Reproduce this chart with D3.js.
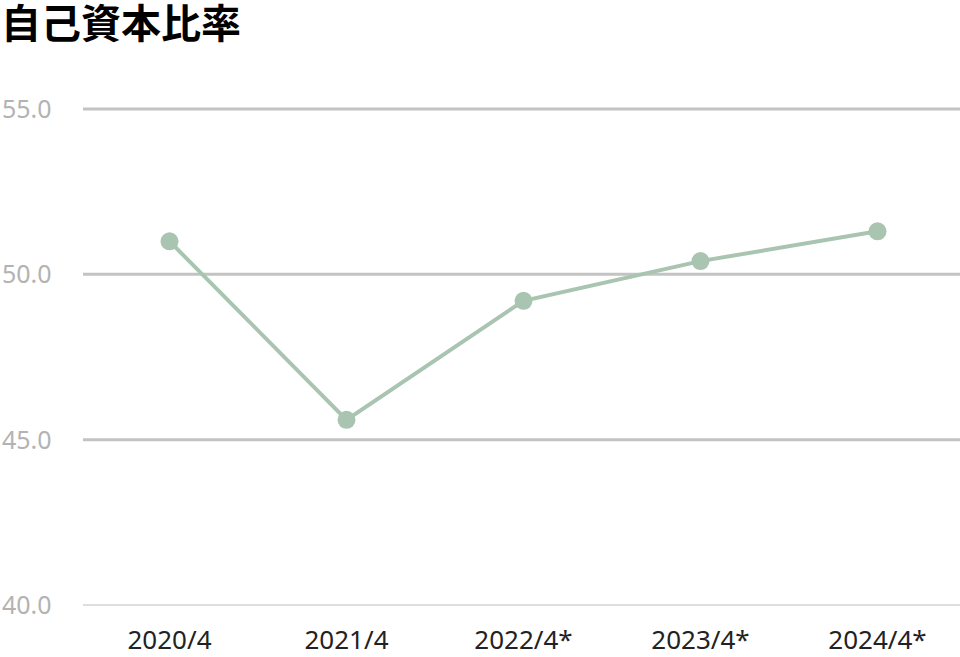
<!DOCTYPE html>
<html><head><meta charset="utf-8">
<script src="https://cdn.jsdelivr.net/npm/d3@7"></script>
<style>
html,body{margin:0;padding:0;background:#fff;}
svg{display:block;}
</style></head>
<body>
<svg id="chart" width="960" height="657"></svg>
<script>
const title = "自己資本比率";
const categories = ["2020/4", "2021/4", "2022/4*", "2023/4*", "2024/4*"];
const values = [51.0, 45.6, 49.2, 50.4, 51.3];
const yTicks = [40, 45, 50, 55];

const svg = d3.select("#chart");
const W = 960, H = 657;
const font = "'Noto Sans', 'Noto Sans CJK JP', sans-serif";

const x = d3.scaleBand().domain(categories).range([81, 966]);
const y = d3.scaleLinear().domain([40, 55]).range([605, 109]);

svg.append("text")
  .attr("x", 1).attr("y", 38)
  .attr("font-family", "'Noto Sans CJK JP', sans-serif")
  .attr("font-size", 40).attr("font-weight", "bold")
  .attr("fill", "#000")
  .text(title);

const grid = svg.append("g");
grid.selectAll("line").data(yTicks).join("line")
  .attr("x1", 83).attr("x2", W)
  .attr("y1", d => y(d)).attr("y2", d => y(d))
  .attr("stroke", d => d === 40 ? "#dedede" : "#c3c3c3")
  .attr("stroke-width", d => d === 40 ? 2 : 3);

grid.selectAll("text").data(yTicks).join("text")
  .attr("x", 2).attr("y", d => y(d))
  .attr("dy", "0.36em")
  .attr("font-family", font).attr("font-size", 25)
  .attr("fill", "#b3b3b3")
  .text(d => d3.format(".1f")(d));

svg.append("g").selectAll("text").data(categories).join("text")
  .attr("x", d => x(d) + x.bandwidth() / 2)
  .attr("y", 649)
  .attr("text-anchor", "middle")
  .attr("font-family", font).attr("font-size", 26)
  .attr("fill", "#222")
  .text(d => d);

const data = categories.map((c, i) => ({c, v: values[i]}));
const line = d3.line().x(d => x(d.c) + x.bandwidth() / 2).y(d => y(d.v));
svg.append("path").datum(data)
  .attr("d", line)
  .attr("fill", "none")
  .attr("stroke", "#a9c5b1")
  .attr("stroke-width", 4);

svg.append("g").selectAll("circle").data(data).join("circle")
  .attr("cx", d => x(d.c) + x.bandwidth() / 2)
  .attr("cy", d => y(d.v))
  .attr("r", 9)
  .attr("fill", "#a9c5b1");
</script>
</body></html>
